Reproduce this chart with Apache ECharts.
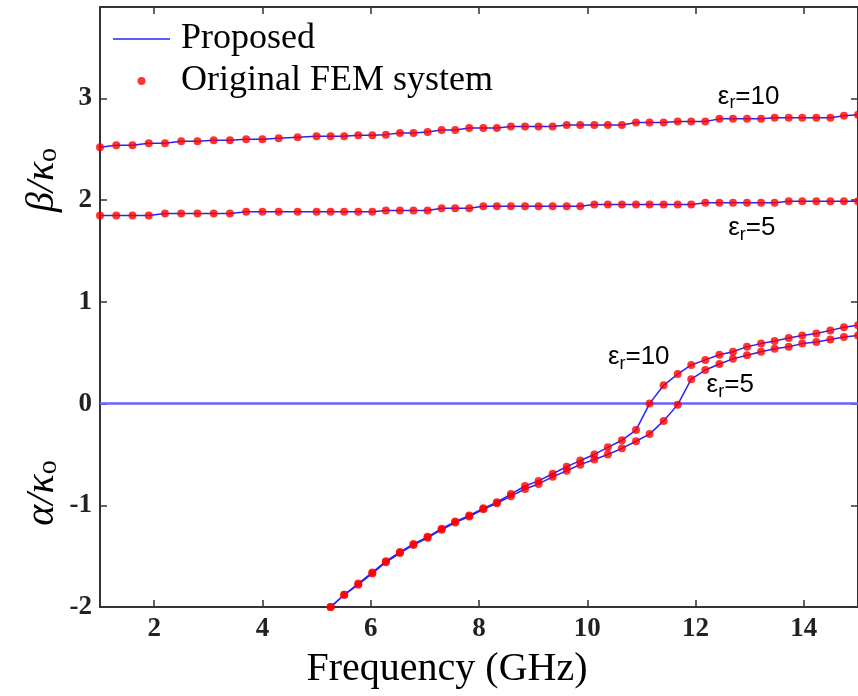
<!DOCTYPE html>
<html>
<head>
<meta charset="utf-8">
<script src="https://cdn.jsdelivr.net/npm/echarts@6.0.0/dist/echarts.min.js"></script>
<style>
  html, body { margin: 0; padding: 0; background: #fff; }
  #chart { width: 858px; height: 696px; }
</style>
</head>
<body>
<div id="chart"></div>
<script>
// sample frequencies (GHz)
var freq = [1.0, 1.3, 1.6, 1.9, 2.2, 2.5, 2.8, 3.1, 3.4, 3.7, 4.0, 4.3, 4.65,
    5.0, 5.26, 5.51, 5.77, 6.03, 6.28, 6.54, 6.79, 7.05, 7.31, 7.56,
    7.82, 8.08, 8.33, 8.59, 8.85, 9.10, 9.36, 9.62, 9.87, 10.13, 10.38, 10.64,
    10.90, 11.15, 11.41, 11.67, 11.92, 12.18, 12.44, 12.69, 12.95, 13.21, 13.46,
    13.72, 13.97, 14.23, 14.49, 14.74, 15.0];

// beta / k0
var betaEr10 = [2.52, 2.54, 2.54, 2.56, 2.56, 2.58, 2.58, 2.59, 2.59, 2.60, 2.60, 2.61, 2.62,
    2.63, 2.63, 2.63, 2.64, 2.64, 2.645, 2.66, 2.66, 2.67, 2.69, 2.69,
    2.71, 2.71, 2.71, 2.725, 2.725, 2.725, 2.725, 2.74, 2.74, 2.74, 2.74, 2.74,
    2.765, 2.765, 2.765, 2.775, 2.775, 2.775, 2.80, 2.80, 2.80, 2.80, 2.81,
    2.81, 2.81, 2.81, 2.81, 2.83, 2.84];
var betaEr5 = [1.85, 1.85, 1.85, 1.85, 1.87, 1.87, 1.87, 1.87, 1.87, 1.886, 1.886, 1.886, 1.886,
    1.886, 1.886, 1.886, 1.886, 1.886, 1.90, 1.90, 1.90, 1.90, 1.92, 1.92,
    1.92, 1.94, 1.94, 1.94, 1.94, 1.94, 1.94, 1.94, 1.94, 1.958, 1.958, 1.958,
    1.958, 1.958, 1.958, 1.958, 1.958, 1.975, 1.975, 1.975, 1.975, 1.975, 1.975,
    1.99, 1.99, 1.99, 1.99, 1.99, 1.99];

// alpha / k0 (curves enter the axes at 5.26 GHz)
var alphaEr10 = [null, null, null, null, null, null, null, null, null, null, null, null, null,
    null, -2.00, -1.88, -1.77, -1.66, -1.55, -1.46, -1.38, -1.31, -1.23, -1.16,
    -1.10, -1.03, -0.97, -0.89, -0.81, -0.76, -0.69, -0.62, -0.56, -0.50, -0.43, -0.36,
    -0.26, 0.00, 0.18, 0.29, 0.38, 0.43, 0.48, 0.51, 0.56, 0.59, 0.615,
    0.645, 0.67, 0.69, 0.72, 0.75, 0.77];
var alphaEr5 = [null, null, null, null, null, null, null, null, null, null, null, null, null,
    null, -2.00, -1.88, -1.78, -1.67, -1.56, -1.47, -1.39, -1.32, -1.24, -1.17,
    -1.11, -1.04, -0.98, -0.91, -0.84, -0.79, -0.72, -0.66, -0.60, -0.55, -0.50, -0.44,
    -0.37, -0.30, -0.17, -0.01, 0.24, 0.33, 0.39, 0.44, 0.475, 0.51, 0.54,
    0.56, 0.59, 0.605, 0.63, 0.655, 0.67];

// alpha = 0 reference line
var zeroFreq = [1, 15];
var zeroAlpha = [0, 0];

var xTicks = [2, 4, 6, 8, 10, 12, 14];

function pairs(xs, ys) {
    var out = [];
    for (var i = 0; i < xs.length; i++) {
        if (ys[i] !== null) out.push([xs[i], ys[i]]);
    }
    return out;
}

var BLUE = '#2424ff';
var RED = '#ff0000';
var SERIF = '"Liberation Serif", "Times New Roman", serif';
var SANS = '"Liberation Sans", Arial, sans-serif';

var epsRich = {
    e: { fontSize: 26, fontFamily: SANS, color: '#000' },
    s: { fontSize: 18, fontFamily: SANS, color: '#000', padding: [14, 0, 0, 0] }
};

function epsNote(coord, num) {
    return {
        coord: coord,
        symbol: 'circle',
        symbolSize: 0,
        label: {
            show: true,
            position: 'inside',
            formatter: '{e|ε}{s|r}{e|=' + num + '}',
            rich: epsRich
        }
    };
}

function curve(ys, notes) {
    var data = pairs(freq, ys);
    return [{
        name: 'Proposed',
        type: 'line',
        data: data,
        symbol: 'none',
        lineStyle: { color: BLUE, width: 1.5 },
        itemStyle: { color: BLUE },
        z: 2,
        markPoint: notes ? { data: notes, silent: true } : undefined
    }, {
        name: 'Original FEM system',
        type: 'scatter',
        data: data,
        symbol: 'circle',
        symbolSize: 8,
        itemStyle: { color: RED },
        z: 3
    }];
}

function axisBase(extra) {
    return Object.assign({
        axisLine: { show: true, onZero: false, lineStyle: { color: '#333', width: 2 } },
        axisTick: { show: true, inside: true, length: 7, lineStyle: { color: '#333', width: 1.5 } },
        splitLine: { show: false }
    }, extra);
}

var labelStyle = {
    fontFamily: SERIF,
    fontWeight: 'bold',
    fontSize: 27,
    color: '#222'
};

var series = []
    .concat(curve(betaEr10, [epsNote([12.98, 3.02], '10')]))
    .concat(curve(betaEr5, [epsNote([13.04, 1.73], '5')]))
    .concat(curve(alphaEr10, [epsNote([10.95, 0.46], '10')]))
    .concat(curve(alphaEr5, [epsNote([12.64, 0.18], '5')]));

series.push({
    name: 'Proposed',
    type: 'line',
    data: pairs(zeroFreq, zeroAlpha),
    symbol: 'none',
    lineStyle: { color: '#6464ff', width: 2.5 },
    z: 1
});

var options = {
    animation: false,
    backgroundColor: '#fff',
    grid: { left: 100, top: 7, bottom: 89, right: -6, containLabel: false },
    legend: {
        orient: 'vertical',
        left: 113,
        top: 18,
        padding: 0,
        itemWidth: 57,
        itemHeight: 8,
        itemGap: 0,
        selectedMode: false,
        data: [
            { name: 'Proposed', icon: 'path://M0,0 L76,0 L76,2 L0,2 Z', itemStyle: { color: BLUE } },
            { name: 'Original FEM system', icon: 'circle' }
        ],
        textStyle: {
            fontFamily: SERIF,
            fontSize: 36,
            lineHeight: 42,
            color: '#000',
            padding: [0, 0, 0, 6]
        }
    },
    xAxis: [
        axisBase({
            type: 'value',
            position: 'bottom',
            min: 1,
            max: 15,
            axisTick: { show: true, inside: true, length: 7, customValues: xTicks, lineStyle: { color: '#333', width: 1.5 } },
            axisLabel: Object.assign({ customValues: xTicks, margin: 9 }, labelStyle),
            name: 'Frequency (GHz)',
            nameLocation: 'middle',
            nameGap: 42,
            nameTextStyle: { fontFamily: SERIF, fontSize: 40, color: '#000', padding: [0, 64, 0, 0] }
        }),
        axisBase({
            type: 'value',
            position: 'top',
            min: 1,
            max: 15,
            axisTick: { show: true, inside: true, length: 7, customValues: xTicks, lineStyle: { color: '#333', width: 1.5 } },
            axisLabel: { show: false }
        })
    ],
    yAxis: [
        axisBase({
            type: 'value',
            position: 'left',
            min: -2,
            max: 3.9,
            interval: 1,
            axisLabel: Object.assign({ margin: 8, showMaxLabel: false }, labelStyle)
        }),
        axisBase({
            type: 'value',
            position: 'right',
            min: -2,
            max: 3.9,
            interval: 1,
            axisLabel: { show: false }
        })
    ],
    graphic: [{
        type: 'text',
        x: 42,
        y: 180,
        rotation: Math.PI / 2,
        style: {
            text: '{i|β/κ}{o|o}',
            align: 'center',
            verticalAlign: 'middle',
            rich: {
                i: { fontFamily: SERIF, fontStyle: 'italic', fontSize: 40, fill: '#000' },
                o: { fontFamily: SERIF, fontSize: 28, fill: '#000', padding: [14, 0, 0, 0] }
            }
        }
    }, {
        type: 'text',
        x: 42,
        y: 493,
        rotation: Math.PI / 2,
        style: {
            text: '{i|α/κ}{o|o}',
            align: 'center',
            verticalAlign: 'middle',
            rich: {
                i: { fontFamily: SERIF, fontStyle: 'italic', fontSize: 40, fill: '#000' },
                o: { fontFamily: SERIF, fontSize: 28, fill: '#000', padding: [14, 0, 0, 0] }
            }
        }
    }],
    series: series
};

var chart = echarts.init(document.getElementById('chart'));
chart.setOption(options);
</script>
</body>
</html>
